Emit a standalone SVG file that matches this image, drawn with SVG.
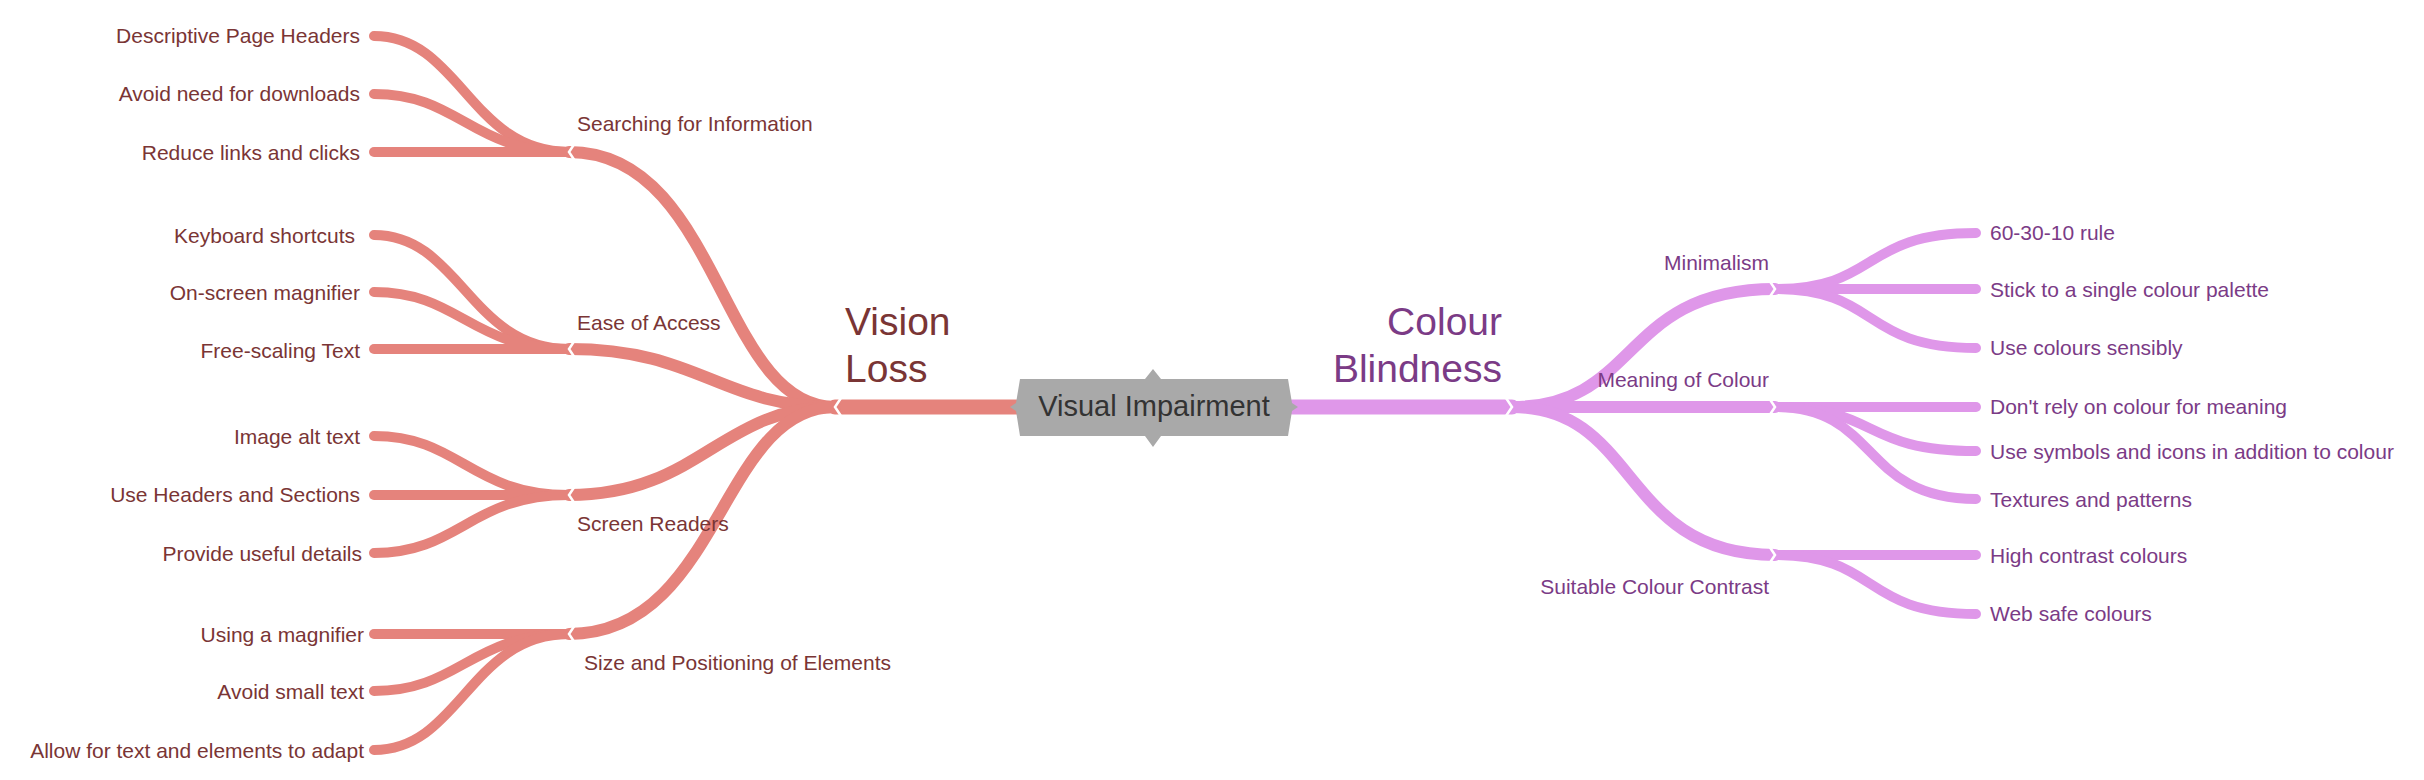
<svg xmlns="http://www.w3.org/2000/svg" width="2424" height="780" viewBox="0 0 2424 780">
<style>
.l{fill:none;stroke:#e5837c;stroke-linecap:round}
.r{fill:none;stroke:#df97e9;stroke-linecap:round}
.t1{stroke-width:15}.t2{stroke-width:12}.t3{stroke-width:10}
.lt{font-family:"Liberation Sans",Arial,sans-serif;font-size:21px;fill:#7a3535}
.rt{font-family:"Liberation Sans",Arial,sans-serif;font-size:21px;fill:#7b3b86}
.big{font-size:39px}
.ch{fill:none;stroke:#fff;stroke-width:2.5}
</style>
<g id="connectors">
<path class="l t1" d="M1016,407 H835"/>
<path class="l t2" d="M835,407 C720,407 720,152 569,152"/>
<path class="l t2" d="M835,407 C720,407 700,349 569,349"/>
<path class="l t2" d="M835,407 C720,407 700,495 569,495"/>
<path class="l t2" d="M835,407 C720,407 720,634 569,634"/>
<path class="l t3" d="M569,152 C470,152 460,36 374,36"/>
<path class="l t3" d="M569,152 C470,152 460,94 374,94"/>
<path class="l t3" d="M569,152 H374"/>
<path class="l t3" d="M569,349 C470,349 460,235 374,235"/>
<path class="l t3" d="M569,349 C470,349 460,292 374,292"/>
<path class="l t3" d="M569,349 H374"/>
<path class="l t3" d="M569,495 C470,495 460,436 374,436"/>
<path class="l t3" d="M569,495 H374"/>
<path class="l t3" d="M569,495 C470,495 460,553 374,553"/>
<path class="l t3" d="M569,634 H374"/>
<path class="l t3" d="M569,634 C470,634 460,691 374,691"/>
<path class="l t3" d="M569,634 C470,634 460,750 374,750"/>
<path class="r t1" d="M1292,407 H1512"/>
<path class="r t2" d="M1512,407 C1640,407 1620,289 1775,289"/>
<path class="r t2" d="M1512,407 H1775"/>
<path class="r t2" d="M1512,407 C1640,407 1620,555 1775,555"/>
<path class="r t3" d="M1775,289 C1880,289 1860,233 1976,233"/>
<path class="r t3" d="M1775,289 H1976"/>
<path class="r t3" d="M1775,289 C1880,289 1860,348 1976,348"/>
<path class="r t3" d="M1775,407 H1976"/>
<path class="r t3" d="M1775,407 C1880,407 1860,451 1976,451"/>
<path class="r t3" d="M1775,407 C1880,407 1860,499 1976,499"/>
<path class="r t3" d="M1775,555 H1976"/>
<path class="r t3" d="M1775,555 C1880,555 1860,614 1976,614"/>
<polyline class="ch" points="841,398 835,407 841,416"/>
<polyline class="ch" points="575,143 569,152 575,161"/>
<polyline class="ch" points="575,340 569,349 575,358"/>
<polyline class="ch" points="575,486 569,495 575,504"/>
<polyline class="ch" points="575,625 569,634 575,643"/>
<polyline class="ch" points="1506,398 1512,407 1506,416"/>
<polyline class="ch" points="1769,280 1775,289 1769,298"/>
<polyline class="ch" points="1769,398 1775,407 1769,416"/>
<polyline class="ch" points="1769,546 1775,555 1769,564"/>
</g>
<g id="center">
<path d="M1020,379 H1145 L1153,369 L1161,379 H1288 L1292,403 L1298,407 L1292,411 L1288,436 H1161 L1153,447 L1145,436 H1020 L1016,411 L1010,407 L1016,403 Z" fill="#a9a9a9"/>
<text x="1154" y="416" text-anchor="middle" font-family="'Liberation Sans',Arial,sans-serif" font-size="29" fill="#333">Visual Impairment</text>
</g>
<g id="vision-loss"><text class="lt big" x="845" y="335">Vision</text><text class="lt big" x="845" y="382">Loss</text></g>
<g id="searching"><text class="lt" x="577" y="131">Searching for Information</text></g>
<g id="ease"><text class="lt" x="577" y="330">Ease of Access</text></g>
<g id="screen"><text class="lt" x="577" y="531">Screen Readers</text></g>
<g id="size"><text class="lt" x="584" y="670">Size and Positioning of Elements</text></g>
<g id="leaves-left">
<text class="lt" x="360" y="43" text-anchor="end">Descriptive Page Headers</text>
<text class="lt" x="360" y="101" text-anchor="end">Avoid need for downloads</text>
<text class="lt" x="360" y="160" text-anchor="end">Reduce links and clicks</text>
<text class="lt" x="355" y="243" text-anchor="end">Keyboard shortcuts</text>
<text class="lt" x="360" y="300" text-anchor="end">On-screen magnifier</text>
<text class="lt" x="360" y="358" text-anchor="end">Free-scaling Text</text>
<text class="lt" x="360" y="444" text-anchor="end">Image alt text</text>
<text class="lt" x="360" y="502" text-anchor="end">Use Headers and Sections</text>
<text class="lt" x="362" y="561" text-anchor="end">Provide useful details</text>
<text class="lt" x="364" y="642" text-anchor="end">Using a magnifier</text>
<text class="lt" x="364" y="699" text-anchor="end">Avoid small text</text>
<text class="lt" x="364" y="758" text-anchor="end">Allow for text and elements to adapt</text>
</g>
<g id="colour-blindness"><text class="rt big" x="1502" y="335" text-anchor="end">Colour</text><text class="rt big" x="1502" y="382" text-anchor="end">Blindness</text></g>
<g id="minimalism"><text class="rt" x="1769" y="270" text-anchor="end">Minimalism</text></g>
<g id="meaning"><text class="rt" x="1769" y="387" text-anchor="end">Meaning of Colour</text></g>
<g id="suitable"><text class="rt" x="1769" y="594" text-anchor="end">Suitable Colour Contrast</text></g>
<g id="leaves-right">
<text class="rt" x="1990" y="240">60-30-10 rule</text>
<text class="rt" x="1990" y="297">Stick to a single colour palette</text>
<text class="rt" x="1990" y="355">Use colours sensibly</text>
<text class="rt" x="1990" y="414">Don't rely on colour for meaning</text>
<text class="rt" x="1990" y="459">Use symbols and icons in addition to colour</text>
<text class="rt" x="1990" y="507">Textures and patterns</text>
<text class="rt" x="1990" y="563">High contrast colours</text>
<text class="rt" x="1990" y="621">Web safe colours</text>
</g>
</svg>
